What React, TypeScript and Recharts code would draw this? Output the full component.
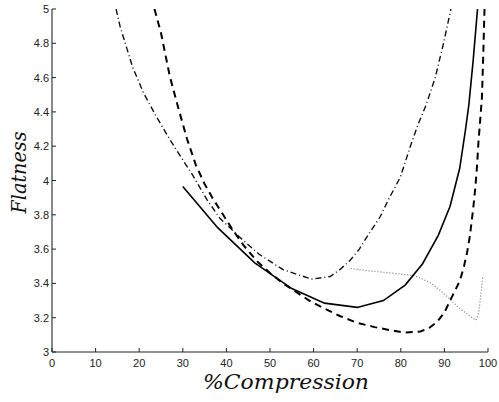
import React from "react";
import { LineChart, Line, XAxis, YAxis } from "recharts";

const xTicks = [0, 10, 20, 30, 40, 50, 60, 70, 80, 90, 100];
const yTicks = [3, 3.2, 3.4, 3.6, 3.8, 4, 4.2, 4.4, 4.6, 4.8, 5];
const yTickLabels = ["3", "3.2", "3.4", "3.6", "3.8", "4", "4.2", "4.4", "4.6", "4.8", "5"];

const solidSeries = [
  { x: 30, y: 3.965 }, { x: 38, y: 3.725 }, { x: 46.5, y: 3.52 }, { x: 55, y: 3.37 },
  { x: 62.5, y: 3.285 }, { x: 70, y: 3.26 }, { x: 76, y: 3.3 }, { x: 81, y: 3.39 },
  { x: 85, y: 3.515 }, { x: 88.6, y: 3.68 }, { x: 91.3, y: 3.85 }, { x: 93.5, y: 4.07 },
  { x: 94.8, y: 4.29 }, { x: 95.6, y: 4.44 }, { x: 96.6, y: 4.7 }, { x: 97.6, y: 5.0 },
];

const dashedSeries = [
  { x: 23.5, y: 5.0 }, { x: 25, y: 4.86 }, { x: 27, y: 4.61 }, { x: 29, y: 4.42 },
  { x: 31, y: 4.24 }, { x: 33, y: 4.09 }, { x: 35, y: 3.98 }, { x: 37, y: 3.89 },
  { x: 39, y: 3.81 }, { x: 41.5, y: 3.71 }, { x: 44, y: 3.62 }, { x: 47, y: 3.53 },
  { x: 50, y: 3.46 }, { x: 53, y: 3.4 }, { x: 56, y: 3.35 }, { x: 59, y: 3.3 },
  { x: 62, y: 3.26 }, { x: 66, y: 3.21 }, { x: 70, y: 3.17 }, { x: 74, y: 3.145 },
  { x: 78, y: 3.125 }, { x: 81, y: 3.113 }, { x: 84.5, y: 3.12 }, { x: 86.5, y: 3.14 },
  { x: 88.3, y: 3.175 }, { x: 90, y: 3.23 }, { x: 91.3, y: 3.3 }, { x: 92.5, y: 3.36 },
  { x: 93.6, y: 3.42 }, { x: 94.5, y: 3.5 }, { x: 95.2, y: 3.58 }, { x: 95.8, y: 3.67 },
  { x: 96.3, y: 3.77 }, { x: 96.7, y: 3.86 }, { x: 97.1, y: 3.96 }, { x: 97.5, y: 4.09 },
  { x: 97.8, y: 4.22 }, { x: 98.2, y: 4.35 }, { x: 98.6, y: 4.48 }, { x: 98.9, y: 4.72 },
  { x: 99.2, y: 5.0 },
];

const dashDotSeries = [
  { x: 14.7, y: 5.0 }, { x: 15.6, y: 4.9 }, { x: 18.5, y: 4.66 }, { x: 21, y: 4.51 },
  { x: 24, y: 4.37 }, { x: 27, y: 4.24 }, { x: 30, y: 4.12 }, { x: 32.3, y: 4.03 },
  { x: 35.5, y: 3.89 }, { x: 38.5, y: 3.78 }, { x: 41, y: 3.72 }, { x: 43, y: 3.67 },
  { x: 47.5, y: 3.57 }, { x: 53, y: 3.48 }, { x: 56.5, y: 3.45 }, { x: 59.6, y: 3.425 },
  { x: 63.8, y: 3.44 }, { x: 66, y: 3.48 }, { x: 68.4, y: 3.535 }, { x: 70.5, y: 3.6 },
  { x: 72.2, y: 3.67 }, { x: 75.3, y: 3.79 }, { x: 77.2, y: 3.89 }, { x: 79.9, y: 4.02 },
  { x: 82.2, y: 4.2 }, { x: 84, y: 4.33 }, { x: 85.8, y: 4.44 }, { x: 87.9, y: 4.6 },
  { x: 89.8, y: 4.8 }, { x: 91.5, y: 5.0 },
];

const dottedSeries = [
  { x: 68.5, y: 3.487 }, { x: 72, y: 3.475 }, { x: 76, y: 3.465 }, { x: 80, y: 3.455 },
  { x: 83, y: 3.445 }, { x: 85, y: 3.425 }, { x: 87, y: 3.4 }, { x: 89, y: 3.36 },
  { x: 91, y: 3.315 }, { x: 93, y: 3.265 }, { x: 95, y: 3.225 }, { x: 97.2, y: 3.185 },
  { x: 97.8, y: 3.22 }, { x: 98.3, y: 3.32 }, { x: 98.8, y: 3.44 },
];

const labelFont = "'Liberation Sans', Arial, sans-serif";
const mathFont = "'DejaVu Serif', serif";

const XTick = (props: any) => {
  const { x, y, payload } = props;
  return (
    <g>
      <line x1={x} x2={x} y1={y} y2={y - 4} stroke="#222" strokeWidth={1} />
      <text x={x} y={y + 15} textAnchor="middle" style={{ fontFamily: labelFont, fontSize: 11 }} fill="#222">
        {String(payload.value)}
      </text>
    </g>
  );
};

const YTick = (props: any) => {
  const { x, y, payload } = props;
  const idx = yTicks.indexOf(payload.value);
  const label = idx >= 0 ? yTickLabels[idx] : String(payload.value);
  return (
    <g>
      <line x1={x} x2={x + 4} y1={y} y2={y} stroke="#222" strokeWidth={1} />
      <text x={x - 3} y={y + 4} textAnchor="end" style={{ fontFamily: labelFont, fontSize: 11 }} fill="#222">
        {label}
      </text>
    </g>
  );
};

export default function App() {
  return (
    <div style={{ position: "absolute", left: 0, top: 0, width: 499, height: 402, background: "#fff" }}>
      <LineChart width={499} height={402} margin={{ top: 9, right: 11, left: 0, bottom: 0 }}>
        <XAxis
          type="number"
          dataKey="x"
          domain={[0, 100]}
          ticks={xTicks}
          allowDataOverflow
          height={50}
          tickSize={0}
          tickMargin={0}
          tickLine={false}
          axisLine={{ stroke: "#222", strokeWidth: 1 }}
          tick={XTick}
          interval={0}
        />
        <YAxis
          type="number"
          dataKey="y"
          domain={[3, 5]}
          ticks={yTicks}
          allowDataOverflow
          width={52}
          tickSize={0}
          tickMargin={0}
          tickLine={false}
          axisLine={{ stroke: "#555", strokeWidth: 1.4 }}
          tick={YTick}
          interval={0}
        />
        <Line data={dashDotSeries} dataKey="y" type="linear" stroke="#111" strokeWidth={1.4}
          strokeDasharray="6 3 1 3" dot={false} isAnimationActive={false} />
        <Line data={dottedSeries} dataKey="y" type="linear" stroke="#777" strokeWidth={1.2}
          strokeDasharray="1 2" dot={false} isAnimationActive={false} />
        <Line data={dashedSeries} dataKey="y" type="linear" stroke="#000" strokeWidth={2}
          strokeDasharray="7 5" dot={false} isAnimationActive={false} />
        <Line data={solidSeries} dataKey="y" type="linear" stroke="#000" strokeWidth={1.6}
          dot={false} isAnimationActive={false} />
        <text x={286} y={389} textAnchor="middle"
          style={{ fontFamily: mathFont, fontStyle: "italic", fontSize: 21, fontWeight: 300 }}
          fill="#111" textLength={166} lengthAdjust="spacingAndGlyphs">
          %Compression
        </text>
        <text x={26} y={172.5} textAnchor="middle"
          style={{ fontFamily: mathFont, fontStyle: "italic", fontSize: 21, fontWeight: 300 }}
          fill="#111" transform="rotate(-90, 26, 172.5)"
          textLength={82} lengthAdjust="spacingAndGlyphs">
          Flatness
        </text>
      </LineChart>
    </div>
  );
}
